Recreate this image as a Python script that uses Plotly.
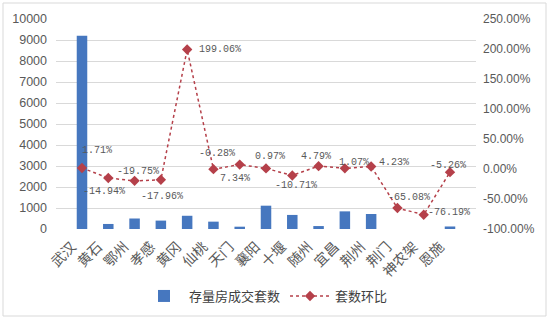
import plotly.graph_objects as go

# 湖北各市州存量房成交套数及环比
cities = ["武汉", "黄石", "鄂州", "孝感", "黄冈", "仙桃", "天门", "襄阳",
          "十堰", "随州", "宜昌", "荆州", "荆门", "神农架", "恩施"]
deals = [9200, 240, 500, 400, 630, 350, 110, 1110,
         670, 140, 840, 715, 0, 0, 120]
mom_pct = [1.71, -14.94, -19.75, -17.96, 199.06, -0.28, 7.34, 0.97,
           -10.71, 4.79, 1.07, 4.23, -65.08, -76.19, -5.26]

left_ticks = list(range(0, 10001, 1000))
left_ticktext = [str(v) for v in left_ticks]
right_ticks = [-100, -50, 0, 50, 100, 150, 200, 250]
right_ticktext = [f"{v:.2f}%" for v in right_ticks]

# label placement (anchor, pixel shift) for each percentage label
label_place = [
    ("left", "middle", -2, 17), ("center", "middle", -4, -14),
    ("center", "middle", 3, 9), ("center", "middle", 1, -17),
    ("left", "middle", 10, 0), ("center", "middle", 4, 16),
    ("center", "middle", -5, -14), ("center", "middle", 4, 12),
    ("center", "middle", 4, -10), ("center", "middle", -3, 10),
    ("center", "middle", 9, 6), ("left", "middle", 6, 4),
    ("center", "middle", 12, 11), ("left", "middle", 2, 2),
    ("center", "middle", -2, 7),
]

W, H = 550, 323
M = dict(l=56, r=74, t=19, b=94)
pw = W - M["l"] - M["r"]
ph = H - M["t"] - M["b"]

bar_color = "#4677BF"
line_color = "#B5404A"
grey = "#595959"

fig = go.Figure()
fig.add_trace(go.Bar(
    x=cities, y=deals, name="存量房成交套数",
    marker=dict(color=bar_color, line=dict(width=0)),
    yaxis="y",
))
fig.add_trace(go.Scatter(
    x=cities, y=mom_pct, name="套数环比", mode="lines+markers",
    line=dict(color=line_color, width=1.5, dash="dot"),
    marker=dict(symbol="diamond", size=8, color=line_color),
    yaxis="y2",
))

for c, v, (xa, ya, dx, dy) in zip(cities, mom_pct, label_place):
    fig.add_annotation(
        x=c, y=v, xref="x", yref="y2", text=f"{v:.2f}%",
        showarrow=False, xanchor=xa, yanchor=ya, xshift=dx, yshift=dy,
        font=dict(family="Liberation Mono", size=10, color=grey),
    )

# outer chart frame
fig.add_shape(
    type="rect", xref="paper", yref="paper",
    x0=(3 - M["l"]) / pw, x1=(546 - M["l"]) / pw,
    y0=(H - M["b"] - 316) / ph, y1=(H - M["b"] - 3) / ph,
    line=dict(color="#D9D9D9", width=1), layer="below",
)

fig.update_layout(
    width=W, height=H, margin=M,
    paper_bgcolor="white", plot_bgcolor="white",
    bargap=0.6,
    showlegend=True,
    legend=dict(orientation="h", x=0.5, xanchor="center",
                y=(H - M["b"] - 296) / ph, yanchor="middle",
                font=dict(family="Noto Sans CJK SC", size=13, color="#404040"),
                itemwidth=40, tracegroupgap=0),
    xaxis=dict(
        tickangle=-45, showgrid=False, showline=False, ticks="",
        tickfont=dict(family="Noto Sans CJK SC", size=14, color=grey),
        ticklabelshift=-10, ticklabelstandoff=6,
    ),
    yaxis=dict(
        range=[0, 10000], tickvals=left_ticks, ticktext=left_ticktext,
        showgrid=True, gridcolor="#D9D9D9", gridwidth=1, zeroline=False,
        showline=False,
        tickfont=dict(family="Liberation Sans", size=12.5, color=grey),
        ticklabelstandoff=8,
    ),
    yaxis2=dict(
        range=[-100, 250], tickvals=right_ticks, ticktext=right_ticktext,
        overlaying="y", side="right", showgrid=False, zeroline=False,
        showline=False,
        tickfont=dict(family="Liberation Sans", size=12, color=grey),
        ticklabelstandoff=6,
    ),
)

fig.write_html("out.html")
